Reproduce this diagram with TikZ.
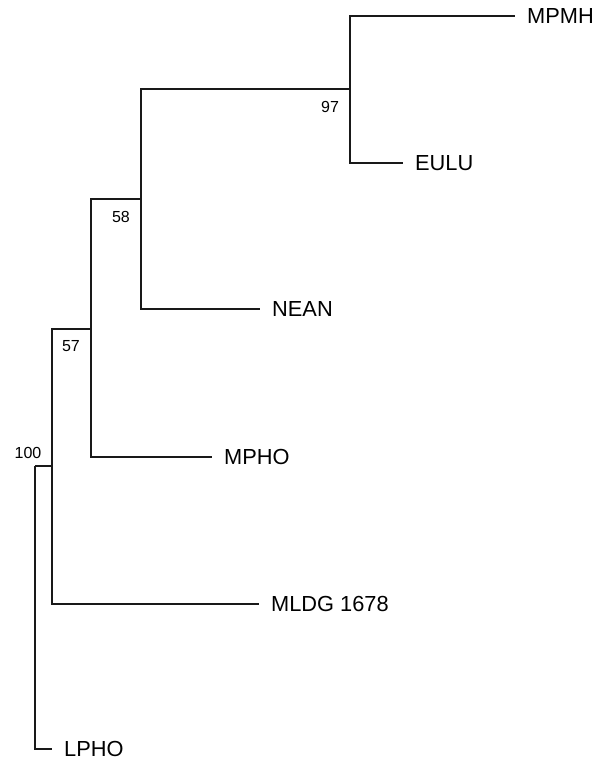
\documentclass[tikz,border=0pt]{standalone}
\usepackage{fontspec}
\setmainfont{Liberation Sans}
\usetikzlibrary{math}

\tikzset{
	branch/.style={line width=1.8pt, color=black!90},
	leaf/.style={anchor=west, inner xsep=12pt, inner ysep=0pt, font=\fontsize{21.8}{24}\selectfont},
	support/.style={inner sep=0pt, font=\fontsize{16}{18}\selectfont}
}

\begin{document}
\begin{tikzpicture}[x=1pt, y=-1pt]
	% Constants
	\tikzmath{\pw = 597; \ph = 761;}
	\useasboundingbox (0,0) rectangle (\pw,\ph);

	% Inner nodes
	\coordinate (root) at (35,466);
	\coordinate (nA) at (52,466);
	\coordinate (n57) at (91,329);
	\coordinate (n58) at (141,199);
	\coordinate (n97) at (350,89);

	% Leaves
	\node[leaf] (mpmh) at (515,16) {MPMH};
	\node[leaf] (eulu) at (403,163) {EULU};
	\node[leaf] (nean) at (260,309) {NEAN};
	\node[leaf] (mpho) at (212,457) {MPHO};
	\node[leaf] (mldg) at (259,604) {MLDG 1678};
	\node[leaf] (lpho) at (52,749) {LPHO};

	% Branches
	\draw[branch] (root) |- (lpho.west);
	\draw[branch] (root) -- (nA);
	\draw[branch] (nA) |- (mldg.west);
	\draw[branch] (nA) |- (n57);
	\draw[branch] (n57) |- (mpho.west);
	\draw[branch] (n57) |- (n58);
	\draw[branch] (n58) |- (nean.west);
	\draw[branch] (n58) |- (n97);
	\draw[branch] (n97) |- (mpmh.west);
	\draw[branch] (n97) |- (eulu.west);

	% Support values
	\node[support] (s100) at (28,453) {100};
	\node[support] (s57) at (71,346) {57};
	\node[support] (s58) at (121,217) {58};
	\node[support] (s97) at (330,107) {97};
\end{tikzpicture}
\end{document}
